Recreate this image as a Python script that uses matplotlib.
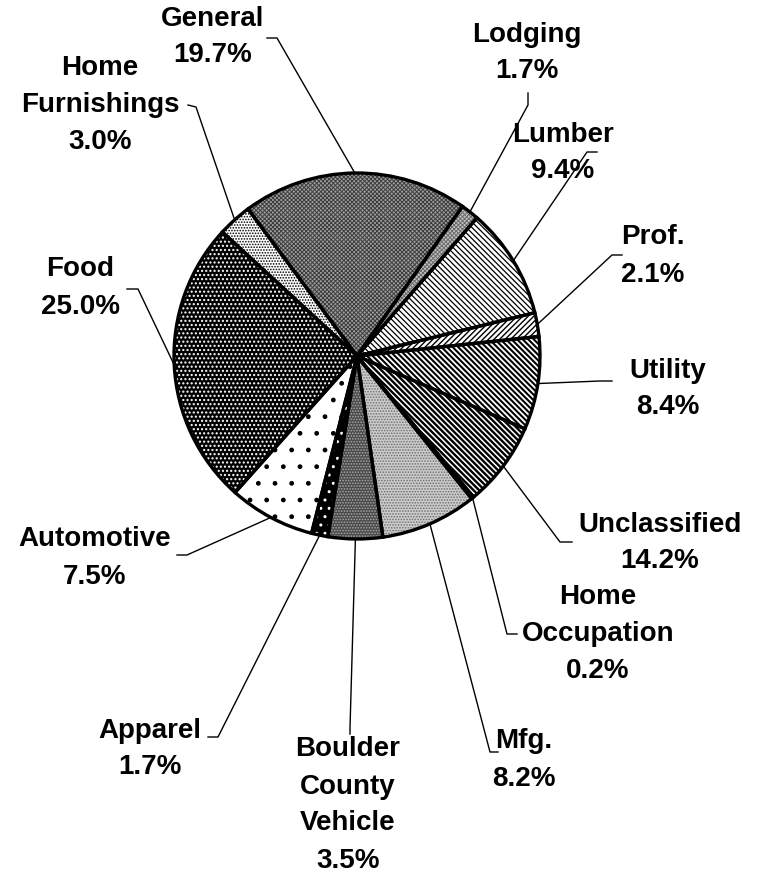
import numpy as np
import matplotlib.pyplot as plt

# slices in drawing order (counter-clockwise, starting at the General/Lodging border)
categories = ["General", "Home\nFurnishings", "Food", "Automotive", "Apparel",
              "Boulder\nCounty\nVehicle", "Mfg.", "Home\nOccupation", "Unclassified",
              "Utility", "Prof.", "Lumber", "Lodging"]
pct_labels = ["19.7%", "3.0%", "25.0%", "7.5%", "1.7%", "3.5%", "8.2%", "0.2%",
              "14.2%", "8.4%", "2.1%", "9.4%", "1.7%"]
# wedge sizes as drawn in the picture (they do not all match the printed labels)
wedge_sizes = [19.9, 3.0, 25.2, 7.6, 1.45, 4.8, 8.5, 0.2, 7.5, 8.2, 2.1, 9.8, 1.6]

# facecolor, hatch, hatch colour, hatch linewidth
styles = [
    ("#a0a0a0", "xxxxxxxx", "#3c3c3c", 0.7),
    ("white", "......", "black", 0.8),
    ("black", "....", "white", 1.0),
    ("white", ".", "black", 1.0),
    ("black", "..", "white", 1.0),
    ("#4a4a4a", "......", "#a8a8a8", 0.8),
    ("#cccccc", "......", "#707070", 0.8),
    ("black", "", "black", 1.0),
    ("white", "\\\\\\\\\\\\", "black", 1.7),
    ("white", "\\\\\\\\\\\\", "black", 1.5),
    ("white", "//////", "black", 1.0),
    ("white", "\\\\\\\\\\\\", "black", 0.9),
    ("#c4c4c4", "xxxxxxxx", "#6a6a6a", 0.7),
]

W, H = 760, 873
cx, cy, R = 357, H - 356, 183

# label centre, knee and end of the leader (image pixels)
label_pos = [
    ((213, 37), (277, 38), (267, 38)),
    ((100, 105), (196, 107), (188, 105)),
    ((80, 288), (138, 289), (127, 289)),
    ((95, 558), (187, 555), (177, 555)),
    ((150, 749), (218, 737), (208, 737)),
    ((348, 805), (350, 728), (350, 734)),
    ((524, 760), (490, 752), (498, 752)),
    ((598, 634), (507, 634), (517, 634)),
    ((660, 543), (560, 542), (572, 542)),
    ((668, 389), (600, 381), (612, 381)),
    ((653, 256), (612, 255), (622, 255)),
    ((563, 153), (587, 152), (597, 152)),
    ((527, 53), (528, 105), (528, 93)),
]

plt.rcParams['font.family'] = ['Liberation Sans', 'DejaVu Sans']

fig = plt.figure(figsize=(W / 100, H / 100), dpi=100)
ax = fig.add_axes([0, 0, 1, 1])

wedges, _ = ax.pie(wedge_sizes, startangle=54.8, counterclock=True,
                   center=(cx, cy), radius=R, wedgeprops=dict(linewidth=0))
for w, (fc, hatch, hc, hlw) in zip(wedges, styles):
    w.set_facecolor(fc)
    w.set_edgecolor(hc)
    w.set_hatch(hatch)
    w.set_linewidth(0)
    if hasattr(w, 'set_hatch_linewidth'):
        w.set_hatch_linewidth(hlw)

ax.pie(wedge_sizes, startangle=54.8, counterclock=True, center=(cx, cy), radius=R,
       wedgeprops=dict(facecolor='none', edgecolor='black', linewidth=2.4))

for w, name, pct, (txt, knee, end) in zip(wedges, categories, pct_labels, label_pos):
    mid = np.deg2rad((w.theta1 + w.theta2) / 2)
    ex, ey = cx + R * np.cos(mid), cy + R * np.sin(mid)
    ax.plot([ex, knee[0], end[0]], [ey, H - knee[1], H - end[1]],
            color='black', linewidth=1.0, zorder=3)
    ax.text(txt[0], H - txt[1], name + "\n" + pct, ha='center', va='center',
            multialignment='center', fontsize=20, fontweight='bold',
            linespacing=1.55)

ax.set_xlim(0, W)
ax.set_ylim(0, H)
ax.set_aspect('auto')
ax.axis('off')

fig.savefig('out.png', dpi=100, facecolor='white')
